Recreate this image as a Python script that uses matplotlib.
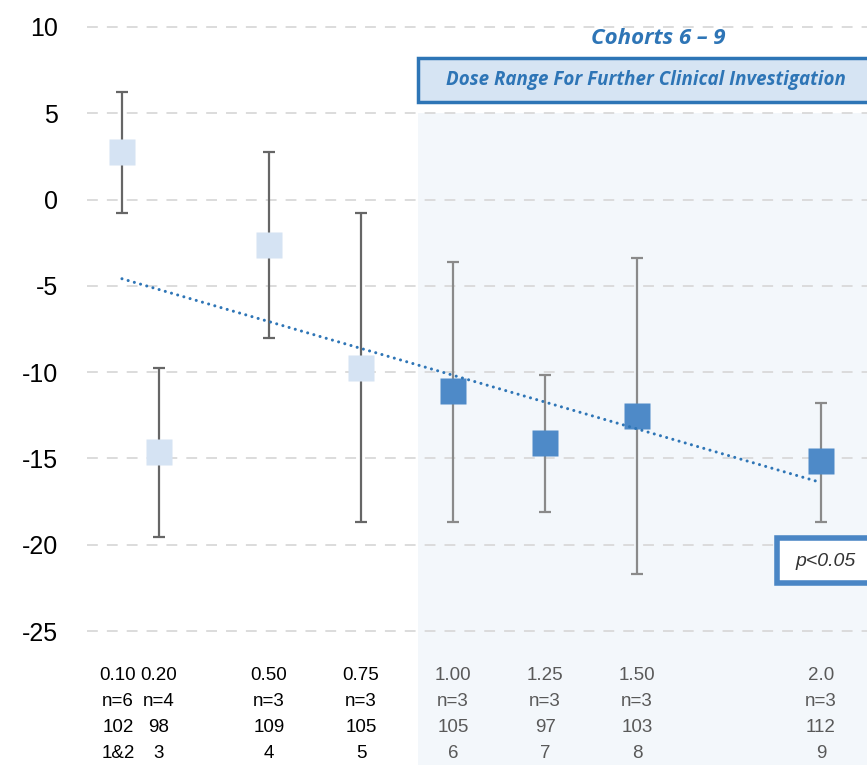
import numpy as np
import matplotlib
matplotlib.use("Agg")
import matplotlib.pyplot as plt
from matplotlib.patches import Rectangle
from matplotlib.transforms import blended_transform_factory

# ---- data ----
doses = [0.10, 0.20, 0.50, 0.75, 1.00, 1.25, 1.50, 2.0]
means = [2.76, -14.6, -2.63, -9.76, -11.09, -14.1, -12.54, -15.14]
upper = [6.23, -9.76, 2.76, -0.78, -3.6, -10.16, -3.38, -11.78]
lower = [-0.78, -19.55, -8.02, -18.68, -18.68, -18.1, -21.69, -18.68]
dose_labels = ["0.10", "0.20", "0.50", "0.75", "1.00", "1.25", "1.50", "2.0"]
n_labels = ["n=6", "n=4", "n=3", "n=3", "n=3", "n=3", "n=3", "n=3"]
row3_labels = ["102", "98", "109", "105", "105", "97", "103", "112"]
cohort_labels = ["1&2", "3", "4", "5", "6", "7", "8", "9"]
highlight = [False, False, False, False, True, True, True, True]
yticks = [10, 5, 0, -5, -10, -15, -20, -25]

W, H = 867, 765
fig = plt.figure(figsize=(W / 100, H / 100), dpi=100)
fig.patch.set_facecolor("white")

def fx(px):
    return px / W

def fy(py):
    return 1 - py / H

# shaded dose range region (figure level, behind axes)
fig.patches.append(Rectangle((fx(418), fy(765)), fx(867 - 418) + 0.01, (765 - 113) / H,
                             transform=fig.transFigure, facecolor="#F3F7FB",
                             edgecolor="none", zorder=-5))

ax = fig.add_axes([fx(87), fy(636.2), fx(867 - 87), (636.2 - 21.8) / H])
ax.set_facecolor("none")
ax.set_xlim(0.005, 2.125)
ax.set_ylim(-25.3, 10.3)
for s in ax.spines.values():
    s.set_visible(False)
ax.set_xticks([])
ax.set_yticks(yticks)
ax.set_yticklabels([str(t) for t in yticks], fontsize=18, family="Liberation Sans")
ax.tick_params(axis="y", length=0, pad=21)
for t in yticks:
    ax.axhline(t, color="#D9D9D9", lw=1.3, ls=(0, (6, 5)), zorder=1)

light = "#D5E3F3"
dark = "#4E8AC8"
for d, m, u, l, h in zip(doses, means, upper, lower, highlight):
    ecol = "#8A8A8A" if h else "#666666"
    ax.errorbar([d], [m], yerr=[[m - l], [u - m]], fmt="none", ecolor=ecol,
                elinewidth=1.6, capsize=4.5, capthick=1.6, zorder=2)
    ax.plot([d], [m], marker="s", ms=18.5, color=dark if h else light,
            mec="none", zorder=3)

# linear trend
coef = np.polyfit(doses, means, 1)
xt = np.array([doses[0], doses[-1]])
ax.plot(xt, np.polyval(coef, xt), ls=(0, (0.01, 2.1)), color="#2E75B6", lw=2.2,
        zorder=4, dash_capstyle="round")

# bottom table
tr = blended_transform_factory(ax.transData, fig.transFigure)
rows_y = [676, 701, 727, 753]
for i, d in enumerate(doses):
    col = "#595959" if highlight[i] else "#000000"
    off = -0.011 if i == 0 else 0.0
    for ry, labs in zip(rows_y, [dose_labels, n_labels, row3_labels, cohort_labels]):
        ax.text(d + off, fy(ry), labs[i], transform=tr, ha="center", va="center",
                fontsize=13.5, color=col, family="Liberation Sans", clip_on=False)

# header annotations
fig.text(fx(658), fy(38), "Cohorts 6 – 9", ha="center", va="center", fontsize=16,
         fontweight="bold", fontstyle="italic", color="#2E75B6", family="Open Sans")
fig.patches.append(Rectangle((fx(417.5), fy(102)), fx(470), 44 / H,
                             transform=fig.transFigure, facecolor="#D6E4F3",
                             edgecolor="#2E75B6", lw=2.5, zorder=5))
fig.text(fx(646), fy(80), "Dose Range For Further Clinical Investigation", ha="center",
         va="center", fontsize=13.5, fontweight="bold", fontstyle="italic",
         color="#2E75B6", family="Open Sans", zorder=6)

# p-value box
fig.patches.append(Rectangle((fx(777), fy(583)), fx(120), 45 / H,
                             transform=fig.transFigure, facecolor="white",
                             edgecolor="#4A86C5", lw=4, zorder=5))
fig.text(fx(826), fy(561), "p<0.05", ha="center", va="center", fontsize=14,
         fontstyle="italic", color="#333333", family="Liberation Sans", zorder=6)

fig.savefig("out.png", dpi=100)
